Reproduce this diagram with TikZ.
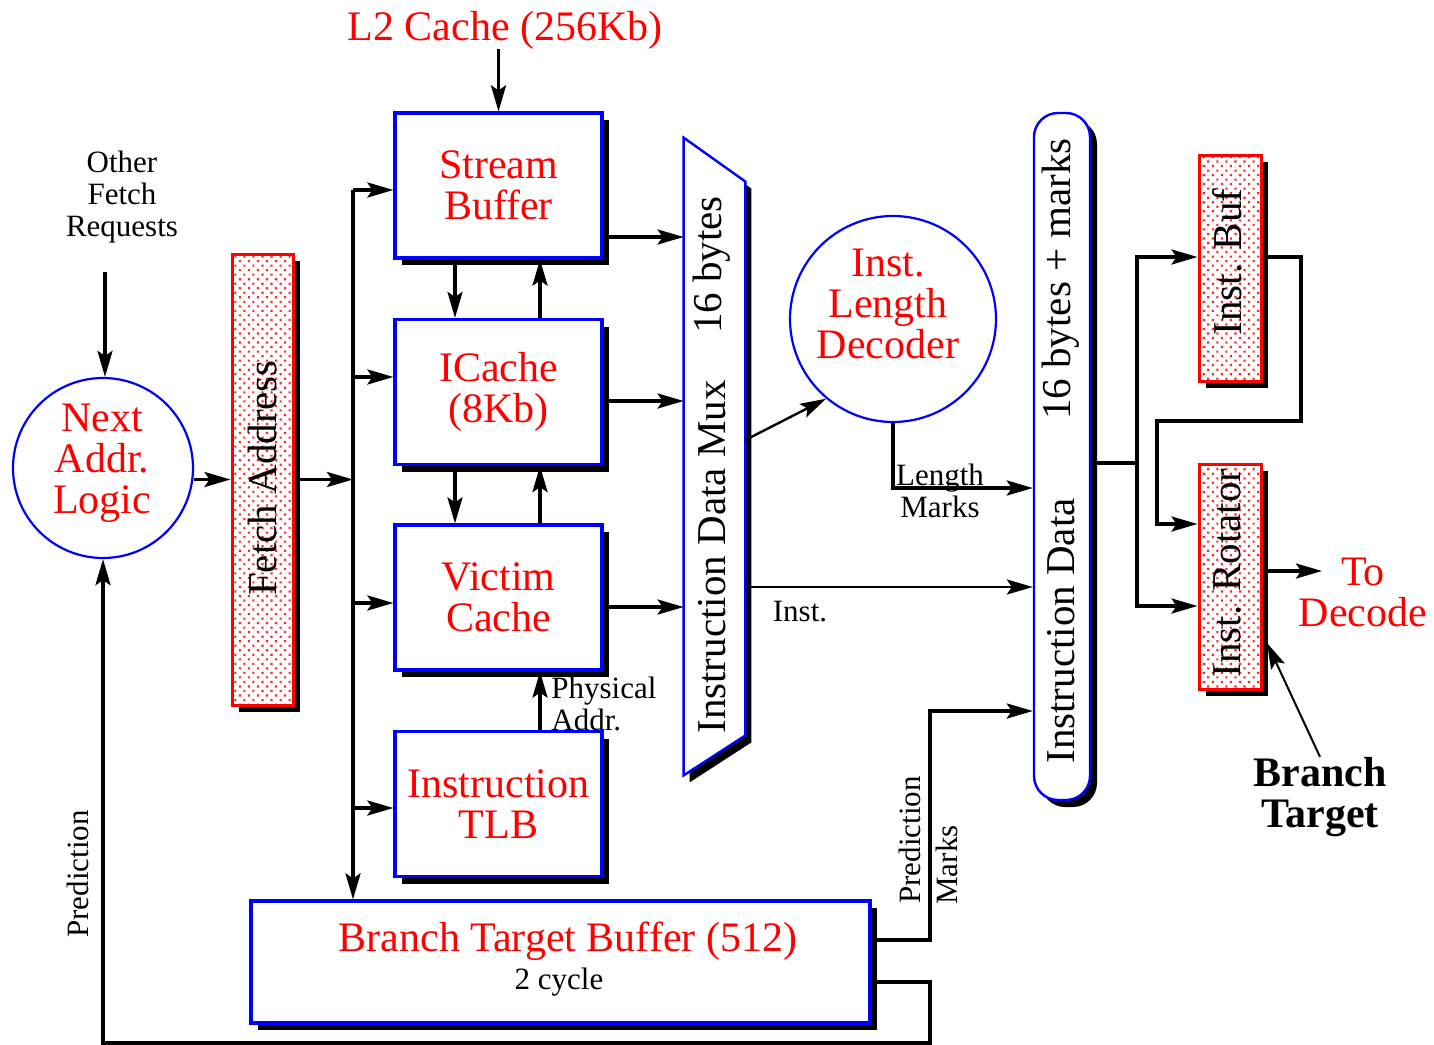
\documentclass[tikz,border=0pt]{standalone}
\usepackage{fontspec}
\setmainfont{Liberation Serif}
\usetikzlibrary{arrows.meta,shadows,patterns.meta,calc}
\begin{document}
\begin{tikzpicture}[x=0.5pt,y=-0.5pt,
  big/.style={font=\fontsize{21pt}{20.5pt}\selectfont},
  mid/.style={font=\fontsize{20.5pt}{20pt}\selectfont},
  sml/.style={font=\fontsize{15.5pt}{16pt}\selectfont},
  redtxt/.style={big, text=red, align=center, inner sep=0pt},
  blktxt/.style={sml, align=center, inner sep=0pt},
  rottxt/.style={mid, rotate=90, inner sep=0pt},
  shd/.style={drop shadow={shadow xshift=3.5pt, shadow yshift=-3.5pt, opacity=1, fill=black}},
  bluebox/.style={draw=blue, line width=1.6pt, fill=white, shd, minimum width=103.5pt, minimum height=72.5pt, inner sep=0pt, big, text=red, align=center},
  dotbox/.style={draw=red, line width=1.5pt, shd, preaction={fill=white}, pattern={Dots[angle=45, distance=3.2pt, radius=0.75pt]}, pattern color=red!85, inner sep=0pt},
  circ/.style={circle, draw=blue, line width=1.1pt, fill=white, inner sep=0pt},
  conn/.style={line width=1.7pt},
  arr/.style={conn, -{Stealth[length=13pt, width=7.5pt, inset=2.5pt]}},
]
\fill[white] (0,0) rectangle (1434,1044);
\useasboundingbox (0,0) rectangle (1434,1044);

% helper coordinates
\coordinate (busx) at (353,0);
\coordinate (d1) at (455,0);
\coordinate (u1) at (540,0);
\coordinate (x930) at (930,0);
\coordinate (x1137) at (1137,0);
\coordinate (x1157) at (1157,0);
\coordinate (x1301) at (1301,0);
\foreach \yy in {190,377,603,808,237,401,607,440,587,488,711,940,982,1043,463,257,606,421,524,571}
  {\coordinate (y\yy) at (0,\yy);}

% blue boxes
\node[bluebox] (sb) at (498.5,185.5) {Stream\\Buffer};
\node[bluebox] (ic) at (498.5,392) {ICache\\(8Kb)};
\node[bluebox] (vc) at (498.5,597.5) {Victim\\Cache};
\node[bluebox] (tlb) at (498.5,804) {Instruction\\TLB};
\node[bluebox, minimum width=309.5pt, minimum height=61pt] (btb) at (560.5,962) {};
\node[redtxt] (btbt) at (568,941) {Branch Target Buffer (512)};
\node[blktxt] (btbc) at (559,982) {2 cycle};

% dotted red boxes
\node[dotbox, minimum width=30.5pt, minimum height=225.5pt] (fa) at (262.5,479.5) {};
\node[rottxt] (fat) at (262,478) {Fetch Address};
\node[dotbox, minimum width=31pt, minimum height=113pt] (ib) at (1230,268) {};
\node[rottxt] (ibt) at (1227,262) {Inst. Buf};
\node[dotbox, minimum width=31pt, minimum height=112.5pt] (ir) at (1230,576.5) {};
\node[rottxt] (irt) at (1227,573) {Inst. Rotator};

% circles
\node[circ, minimum size=90pt] (nal) at (103,468) {};
\node[redtxt] (nalt) at (102,463) {Next\\Addr.\\Logic};
\node[circ, minimum size=103pt] (ild) at (893,319) {};
\node[redtxt] (ildt) at (888,304) {Inst.\\Length\\Decoder};

% mux
\node[minimum width=30.5pt, minimum height=318.5pt, inner sep=0pt] (mux) at (714.5,456.5) {};
\begin{scope}[transform canvas={xshift=3pt,yshift=-3.5pt}]
  \fill[black] (mux.north west) -- ([yshift=-22pt]mux.north east) -- ([yshift=20pt]mux.south east) -- (mux.south west) -- cycle;
\end{scope}
\filldraw[draw=blue, fill=white, line width=1.2pt] (mux.north west) -- ([yshift=-22pt]mux.north east) -- ([yshift=20pt]mux.south east) -- (mux.south west) -- cycle;
\node[rottxt] (muxa) at (712,265) {16 bytes};
\node[rottxt] (muxb) at (712,557) {Instruction Data Mux};

% data buffer
\node[draw=blue, fill=white, line width=1.2pt, rounded corners=12pt, minimum width=28pt, minimum height=343.5pt, inner sep=0pt, shd] (dbuf) at (1062,456.5) {};
\node[rottxt] (dbufa) at (1061,279) {16 bytes + marks};
\node[rottxt] (dbufb) at (1061,631) {Instruction Data};

% texts
\node[redtxt] (l2) at (505,30) {L2 Cache (256Kb)};
\node[blktxt] (ofr) at (122,197) {Other\\Fetch\\Requests};
\coordinate (ofrtail) at (105,272);
\node[blktxt, align=left, anchor=west] (pa) at (551,704) {Physical\\Addr.};
\node[blktxt] (inst) at (800,612) {Inst.};
\node[blktxt] (lm) at (940,491) {Length\\Marks};
\node[blktxt, rotate=90] (pm1) at (910,840) {Prediction};
\node[blktxt, rotate=90] (pm2) at (947,865) {Marks};
\node[blktxt, rotate=90] (pred) at (78,874) {Prediction};
\node[redtxt] (td) at (1363,592) {To\\Decode};
\node[font=\fontsize{21pt}{20.5pt}\selectfont\bfseries, align=center, inner sep=0pt] (bt) at (1320,797) {Branch\\Target};
\coordinate (tdtip) at (1322,571);
\coordinate (brtip) at (1267,643);

% connectors
\draw[arr] (sb.north |- l2.south) -- (sb.north);
\draw[arr] (ofrtail) -- (nal.north -| ofrtail);
\draw[arr] (nal.east |- fa.west) -- (fa.west);
\draw[arr] (fa.east) -- (fa.east -| busx);
\draw[arr] (busx |- y190) -- (btb.north -| busx);
\draw[arr] (busx |- y190) -- (sb.west |- y190);
\draw[arr] (busx |- y377) -- (ic.west |- y377);
\draw[arr] (busx |- y603) -- (vc.west |- y603);
\draw[arr] (busx |- y808) -- (tlb.west |- y808);

\draw[arr] (sb.south -| d1) -- (ic.north -| d1);
\draw[arr] (ic.north -| u1) -- (sb.south -| u1);
\draw[arr] (ic.south -| d1) -- (vc.north -| d1);
\draw[arr] (vc.north -| u1) -- (ic.south -| u1);
\draw[arr] (tlb.north -| u1) -- (vc.south -| u1);

\draw[arr] (sb.east |- y237) -- (mux.west |- y237);
\draw[arr] (ic.east |- y401) -- (mux.west |- y401);
\draw[arr] (vc.east |- y607) -- (mux.west |- y607);

\draw[arr, line width=1.2pt] (mux.east |- y440) -- (ild.230);
\draw[arr, line width=1.3pt] (mux.east |- y587) -- (dbuf.west |- y587);
\draw[arr] (ild.south) |- (dbuf.west |- y488);

\draw[arr] (btb.east |- y940) -| (x930 |- y711) -- (dbuf.west |- y711);
\draw[arr] (btb.east |- y982) -| (x930 |- y1043) -| (nal.south);

\draw[arr] (dbuf.east |- y463) -| (x1137 |- y257) -- (ib.west |- y257);
\draw[arr] (x1137 |- y463) |- (ir.west |- y606);
\draw[arr] (ib.east |- y257) -| (x1301 |- y421) -| (x1157 |- y524) -- (ir.west |- y524);
\draw[arr] (ir.east |- y571) -- (tdtip);
\draw[arr, line width=1pt] (bt.north) -- (brtip);
\end{tikzpicture}
\end{document}
